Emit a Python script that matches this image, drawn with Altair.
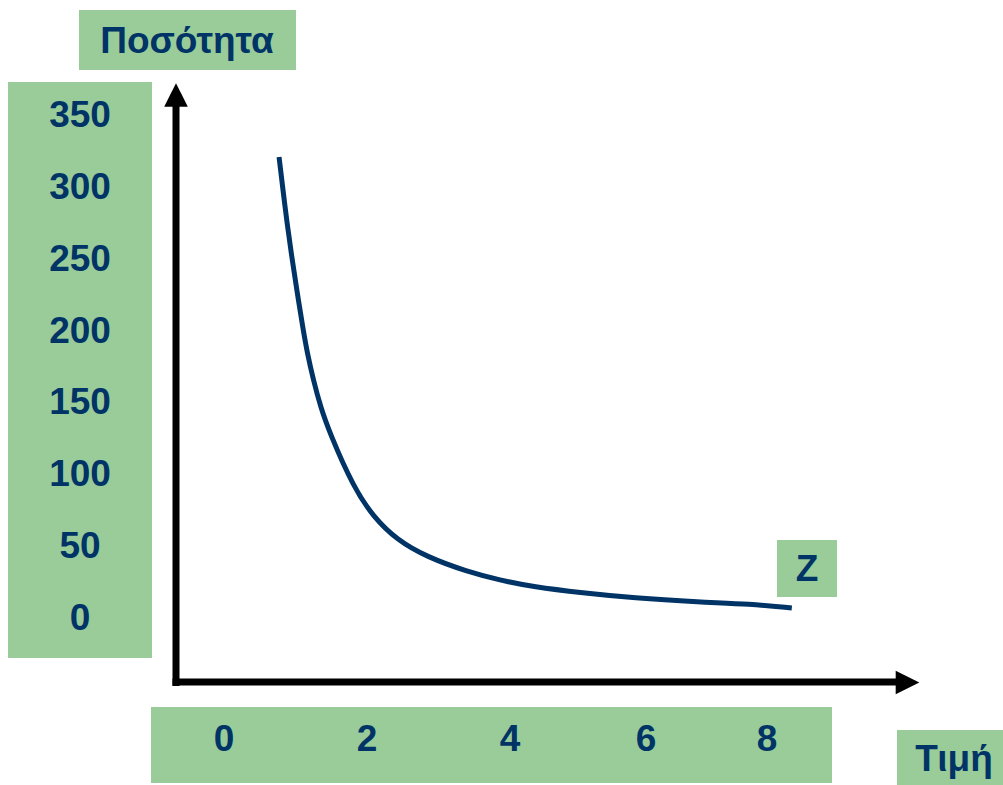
import altair as alt
import pandas as pd

# Data
price = [0.77, 0.825, 0.88, 0.944, 1.014, 1.10, 1.165, 1.25, 1.35, 1.48, 1.81, 2.09,
         2.42, 2.84, 3.40, 3.86, 4.34, 5.07, 5.81, 6.89, 7.72, 8.41]
quantity = [321.5, 298.5, 276.2, 253.3, 230.3, 203.4, 184.9, 166.3, 147.7, 129.2, 91.8, 71,
            55, 43.1, 33, 27, 22.3, 18.1, 14.6, 11.8, 10.4, 7.7]

y_ticks = [0, 50, 100, 150, 200, 250, 300, 350]
x_ticks = [0, 2, 4, 6, 8]
y_title = "Ποσότητα"
x_title = "Τιμή"
curve_label = "Z"

NAVY = "#003366"
GREEN = "#99CC99"
FONT = "Liberation Sans"
FS = 37

xs = alt.Scale(domain=x_ticks, range=[224, 367, 510, 646, 767], nice=False, zero=False)
ys = alt.Scale(domain=[0, 350], range=[619, 116], nice=False, zero=False)

curve_df = pd.DataFrame({"p": price, "q": quantity})
yt_df = pd.DataFrame({"v": y_ticks, "t": [str(v) for v in y_ticks]})
xt_df = pd.DataFrame({"v": x_ticks, "t": [str(v) for v in x_ticks]})
one = pd.DataFrame({"a": [0]})


def box(x1, x2, y1, y2):
    return alt.Chart(one).mark_rect(color=GREEN).encode(
        x=alt.value(x1), x2=alt.value(x2), y=alt.value(y1), y2=alt.value(y2))


def label(text, x, y):
    return alt.Chart(one).mark_text(
        text=text, font=FONT, fontWeight="bold", fontSize=FS, color=NAVY,
        align="center", baseline="middle").encode(x=alt.value(x), y=alt.value(y))


boxes = [
    box(79, 296, 10, 70),
    box(8, 152, 82, 658),
    box(151, 832, 707, 783),
    box(777, 837, 540, 597),
    box(897, 1003, 730, 785),
]

y_axis_line = alt.Chart(one).mark_rule(color="black", strokeWidth=7).encode(
    x=alt.value(176), y=alt.value(100), y2=alt.value(686))
x_axis_line = alt.Chart(one).mark_rule(color="black", strokeWidth=7).encode(
    x=alt.value(172.5), x2=alt.value(900), y=alt.value(682))
up_arrow = alt.Chart(one).mark_point(
    shape="M-1,1L1,1L0,-1Z", size=560, filled=True, color="black", opacity=1).encode(
    x=alt.value(176), y=alt.value(95))
right_arrow = alt.Chart(one).mark_point(
    shape="M-1,-1L-1,1L1,0Z", size=560, filled=True, color="black", opacity=1).encode(
    x=alt.value(907.5), y=alt.value(682.5))

curve = alt.Chart(curve_df).mark_line(
    color=NAVY, strokeWidth=5, interpolate="basis").encode(
    x=alt.X("p:Q", scale=xs, axis=None),
    y=alt.Y("q:Q", scale=ys, axis=None),
    order="p:Q")

y_labels = alt.Chart(yt_df).mark_text(
    font=FONT, fontWeight="bold", fontSize=FS, color=NAVY,
    align="center", baseline="middle").encode(
    x=alt.value(80),
    y=alt.Y("v:Q", scale=ys, axis=None),
    text="t:N")

x_labels = alt.Chart(xt_df).mark_text(
    font=FONT, fontWeight="bold", fontSize=FS, color=NAVY,
    align="center", baseline="middle").encode(
    x=alt.X("v:Q", scale=xs, axis=None),
    y=alt.value(740),
    text="t:N")

chart = alt.layer(
    *boxes,
    y_axis_line, x_axis_line, up_arrow, right_arrow,
    curve, y_labels, x_labels,
    label(y_title, 187, 42),
    label(x_title, 954, 760),
    label(curve_label, 807, 570),
).properties(
    width=1003, height=785, padding=0, background="white",
    autosize=alt.AutoSizeParams(type="none"),
).configure_view(stroke=None)

chart.save("out.html", embed_options={"renderer": "svg", "actions": False})
